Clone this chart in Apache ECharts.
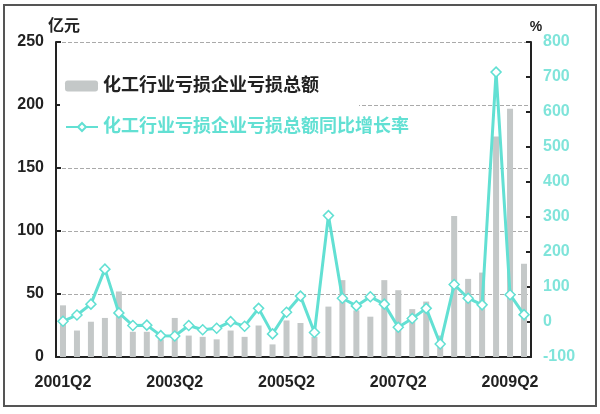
<!DOCTYPE html>
<html>
<head>
<meta charset="utf-8">
<title>化工行业亏损企业亏损总额</title>
<script src="https://cdn.jsdelivr.net/npm/echarts@6/dist/echarts.min.js"></script>
<style>
    html, body { margin: 0; padding: 0; background: #fff; }
    #chart { width: 600px; height: 414px; }
</style>
</head>
<body>
<div id="chart"></div>
<script>
// 季度
const quarters = [
    '2001Q2', '2001Q3', '2001Q4', '2002Q1', '2002Q2', '2002Q3', '2002Q4', '2003Q1',
    '2003Q2', '2003Q3', '2003Q4', '2004Q1', '2004Q2', '2004Q3', '2004Q4', '2005Q1',
    '2005Q2', '2005Q3', '2005Q4', '2006Q1', '2006Q2', '2006Q3', '2006Q4', '2007Q1',
    '2007Q2', '2007Q3', '2007Q4', '2008Q1', '2008Q2', '2008Q3', '2008Q4', '2009Q1',
    '2009Q2', '2009Q3'
]
// 亏损总额（亿元）
const lossAmount = [
    41, 21, 28, 31, 52, 20, 20, 14,
    31, 17, 16, 14, 21, 16, 25, 10,
    29, 27, 16, 40, 61, 37, 32, 61,
    53, 38, 44, 17, 112, 62, 67, 175,
    197, 74
]
// 同比增长率（%）
const lossGrowth = [
    2, 20, 51, 151, 26, -10, -9, -39,
    -40, -10, -22, -18, 1, -12, 39, -34,
    28, 74, -30, 304, 68, 46, 72, 51,
    -15, 10, 39, -63, 107, 68, 49, 714,
    78, 21
]

const barName = '化工行业亏损企业亏损总额'
const lineName = '化工行业亏损企业亏损总额同比增长率'
const cyan = '#62e0d3'
const labelFont = "'Liberation Sans', 'Noto Sans CJK SC', sans-serif"

const chart = echarts.init(document.getElementById('chart'))
const option = {
    animation: false,
    textStyle: { fontFamily: labelFont },
    graphic: [
        {
            // 外框
            type: 'rect',
            shape: { x: 4, y: 5, width: 592, height: 401 },
            style: { fill: 'none', stroke: '#555', lineWidth: 2 },
            z: -1
        }
    ],
    legend: [
        {
            data: [barName],
            left: 60,
            top: 73,
            orient: 'vertical',
            itemWidth: 33,
            itemHeight: 11,
            backgroundColor: '#fff',
            padding: [4, 40, 14, 5],
            textStyle: { fontSize: 18, fontWeight: 'bold', color: '#222' }
        },
        {
            data: [lineName],
            left: 65,
            top: 118,
            orient: 'vertical',
            itemWidth: 32,
            itemHeight: 10,
            padding: [0, 0, 0, 0],
            textStyle: { fontSize: 18, fontWeight: 'bold', color: cyan }
        }
    ],
    grid: {
        left: 56,
        right: 69,
        top: 42,
        bottom: 57,
        containLabel: false
    },
    xAxis: {
        type: 'category',
        data: quarters,
        boundaryGap: true,
        axisLine: { lineStyle: { color: '#222', width: 2 } },
        axisTick: { inside: true, interval: 1, length: 5, lineStyle: { color: '#222', width: 2 } },
        axisLabel: { interval: 7, color: '#222', fontSize: 16, fontWeight: 'bold', margin: 18 }
    },
    yAxis: [
        {
            type: 'value',
            name: '亿元',
            nameLocation: 'end',
            nameGap: 6,
            nameTextStyle: { color: '#222', fontSize: 16, fontWeight: 'bold', align: 'left', padding: [0, 0, 0, -8] },
            min: 0,
            max: 250,
            interval: 50,
            axisLine: { show: true, lineStyle: { color: '#222', width: 2 } },
            axisTick: { show: true, inside: true, length: 5, lineStyle: { color: '#222', width: 2 } },
            axisLabel: { color: '#222', fontSize: 16, fontWeight: 'bold', margin: 12 },
            splitLine: { lineStyle: { color: '#aaa', type: 'dashed' } }
        },
        {
            type: 'value',
            name: '%',
            nameLocation: 'end',
            nameGap: 7,
            nameTextStyle: { color: '#222', fontSize: 14, fontWeight: 'bold', padding: [0, 0, 0, 10] },
            position: 'right',
            min: -100,
            max: 800,
            interval: 100,
            axisLine: { show: true, lineStyle: { color: '#222', width: 2 } },
            axisTick: { show: true, inside: true, length: 5, lineStyle: { color: '#222', width: 2 } },
            axisLabel: { color: '#7fe4da', fontSize: 16, fontWeight: 'bold', margin: 12 },
            splitLine: { show: false }
        }
    ],
    series: [
        {
            name: barName,
            type: 'bar',
            yAxisIndex: 0,
            data: lossAmount,
            barWidth: 6,
            itemStyle: { color: '#c4c8c8' }
        },
        {
            name: lineName,
            type: 'line',
            yAxisIndex: 1,
            data: lossGrowth,
            symbol: 'diamond',
            symbolSize: 10,
            showAllSymbol: true,
            lineStyle: { color: cyan, width: 3 },
            itemStyle: { color: '#fff', borderColor: cyan, borderWidth: 1.5 },
            z: 4
        }
    ]
}

chart.setOption(option)
</script>
</body>
</html>
